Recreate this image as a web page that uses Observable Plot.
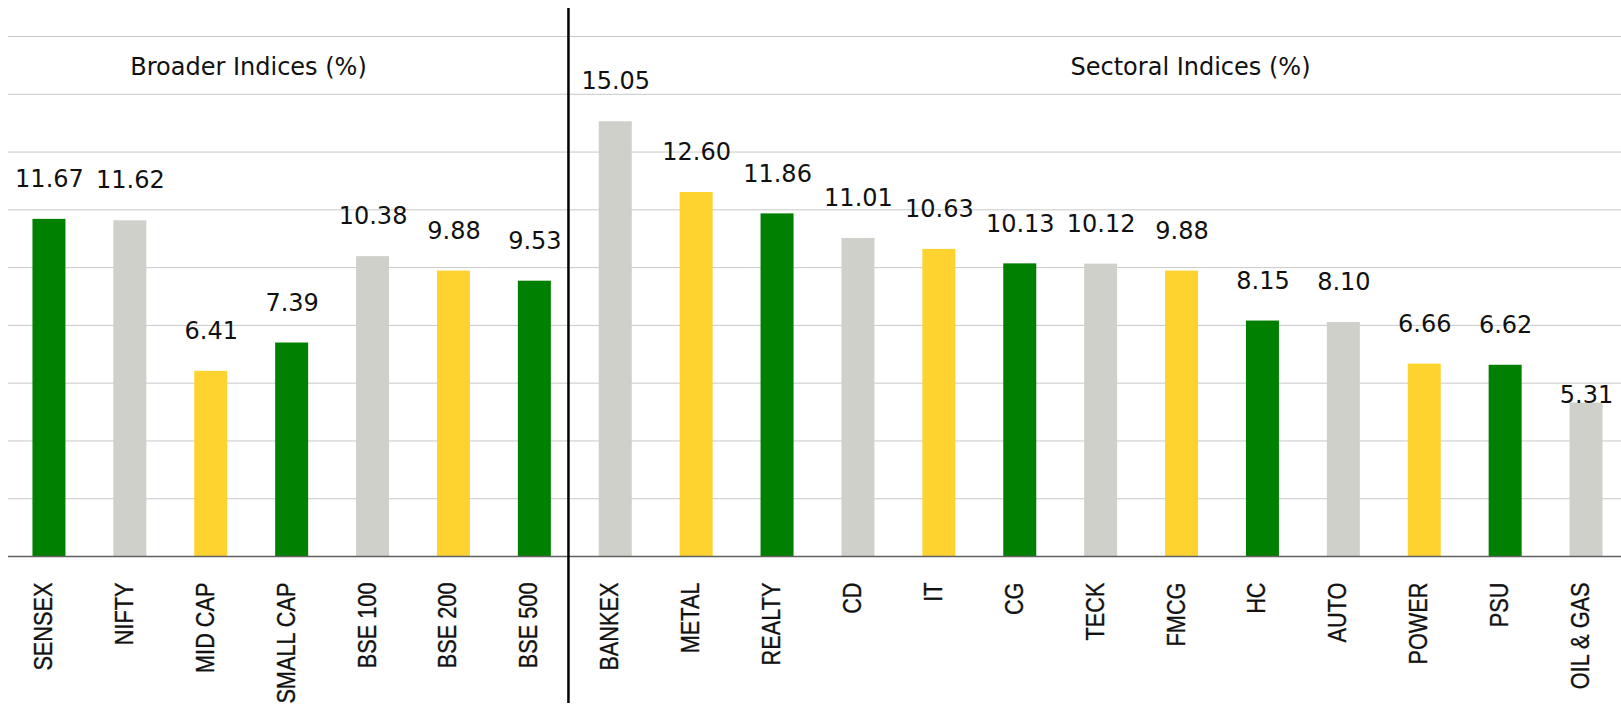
<!DOCTYPE html>
<html>
<head>
<meta charset="utf-8">
<script src="https://cdn.jsdelivr.net/npm/d3@7"></script>
<script src="https://cdn.jsdelivr.net/npm/@observablehq/plot@0.6"></script>
<style>
  html, body { margin: 0; padding: 0; background: #fff; }
  #chart svg { display: block; }
</style>
</head>
<body>
<div id="chart"></div>
<script>
// ---- data ----
const categories = ["SENSEX", "NIFTY", "MID CAP", "SMALL CAP", "BSE 100", "BSE 200", "BSE 500",
  "BANKEX", "METAL", "REALTY", "CD", "IT", "CG", "TECK", "FMCG", "HC", "AUTO", "POWER", "PSU", "OIL & GAS"];
const values = [11.67, 11.62, 6.41, 7.39, 10.38, 9.88, 9.53,
  15.05, 12.60, 11.86, 11.01, 10.63, 10.13, 10.12, 9.88, 8.15, 8.10, 6.66, 6.62, 5.31];
const shades = ["s1", "s2", "s3", "s1", "s2", "s3", "s1",
  "s2", "s3", "s1", "s2", "s3", "s1", "s2", "s3", "s1", "s2", "s3", "s1", "s2"];
const groupTitles = ["Broader Indices (%)", "Sectoral Indices (%)"];
const gridTicks = [2, 4, 6, 8, 10, 12, 14, 16, 18];

const data = categories.map((name, i) => ({name, value: values[i], shade: shades[i]}));
const labelFont = "DejaVu Sans";

const chart = Plot.plot({
  width: 1621,
  height: 711,
  marginTop: 36,
  marginBottom: 155,
  marginLeft: 8,
  marginRight: 0,
  style: {fontFamily: labelFont, background: "#fff", overflow: "visible", color: "#111"},
  x: {domain: categories, range: [8.5, 1626.5], paddingInner: 0.592, paddingOuter: 0.296, round: false, axis: null},
  y: {domain: [0, 18], axis: null},
  color: {type: "ordinal", domain: ["s1", "s2", "s3"], range: ["#008000", "#d0d0cb", "#fed330"]},
  marks: [
    Plot.ruleY(gridTicks, {stroke: "#c8c8c8", strokeWidth: 1}),
    Plot.barY(data, {x: "name", y: "value", fill: "shade"}),
    Plot.ruleY([0], {stroke: "#606060", strokeWidth: 1.5}),
    Plot.text(data.filter(d => d.name !== "OIL & GAS"), {
      x: "name", y: "value", text: d => d.value.toFixed(2), dy: -40, fontSize: 24, fill: "#111"
    }),
    Plot.text(data.filter(d => d.name === "OIL & GAS"), {
      x: "name", y: "value", text: d => d.value.toFixed(2), dy: -8, fontSize: 24, fill: "#111"
    }),
    Plot.text(categories, {
      x: d => d, frameAnchor: "bottom", rotate: -90, textAnchor: "end", lineAnchor: "middle",
      dy: 26, dx: -6, fontSize: 26.5, fontFamily: "Liberation Sans", fill: "#111",
      stroke: "#111", strokeWidth: 0.35
    }),
    Plot.ruleX(["BANKEX"], {dx: -47.3, y1: 18.97, y2: -5.09, stroke: "#000", strokeWidth: 2.5}),
    Plot.text([groupTitles[0]], {frameAnchor: "top-left", textAnchor: "middle", lineAnchor: "middle", dx: 240, dy: 30.6, fontSize: 24, fill: "#111"}),
    Plot.text([groupTitles[1]], {frameAnchor: "top-left", textAnchor: "middle", lineAnchor: "middle", dx: 1182, dy: 30.6, fontSize: 24, fill: "#111"})
  ]
});
// narrow the category labels along their own direction (reference uses a condensed face)
d3.select(chart).selectAll("text")
  .filter(function () { return (this.getAttribute("transform") || "").includes("rotate"); })
  .each(function () {
    this.setAttribute("transform", this.getAttribute("transform") + " scale(0.82,1)");
  });
document.getElementById("chart").appendChild(chart);
</script>
</body>
</html>
